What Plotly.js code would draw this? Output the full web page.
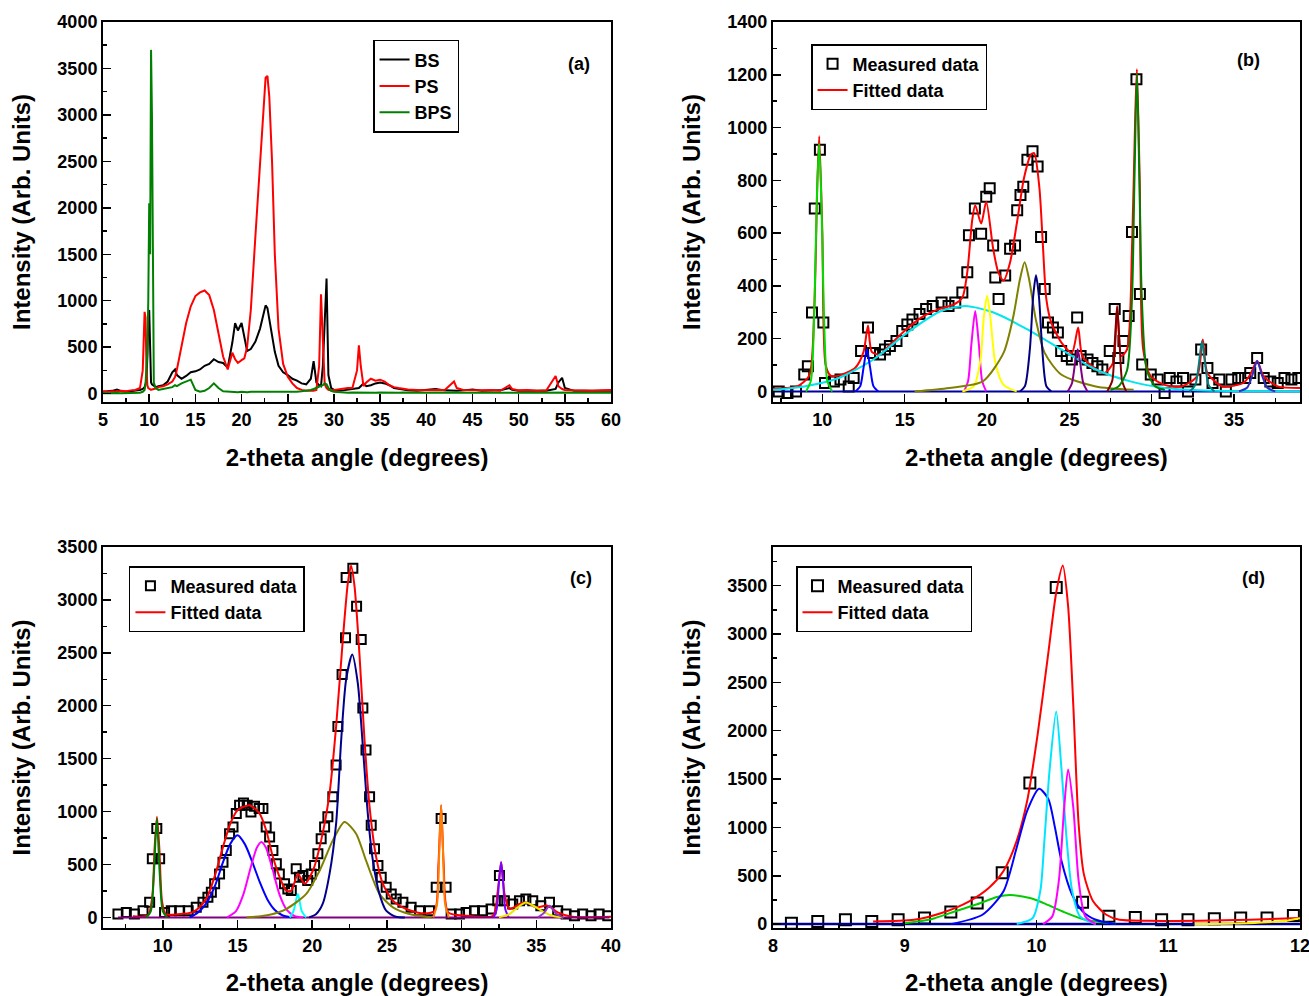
<!DOCTYPE html>
<html><head><meta charset="utf-8">
<script src="https://cdn.plot.ly/plotly-3.0.1.min.js"></script>
<style>html,body{margin:0;padding:0;background:#fff;} #chart{width:1309px;height:996px;}</style>
</head><body><div id="chart"></div>
<script>
// ---------- Panel (a): XRD patterns ----------
const xA = [5,5.5,6,6.5,7,7.5,8,8.5,9,9.3,9.5,9.6,9.7,9.8,9.9,10,10.1,10.2,10.3,10.4,10.5,10.7,11,11.5,12,12.5,12.8,13,13.5,14,14.5,15,15.5,16,16.5,17,17.5,18,18.5,19,19.3,19.6,20,20.3,20.6,21,21.5,22,22.3,22.6,22.8,23,23.3,23.6,24,24.5,25,25.5,26,26.5,27,27.5,27.8,28.1,28.4,28.6,28.8,29,29.2,29.4,29.7,30,30.5,31,31.5,32,32.5,32.7,32.9,33.2,33.5,34,34.5,35,35.5,36,36.5,37,37.5,38,39,40,41,42,43,43.3,44,45,46,47,48,49,49.3,50,51,52,53,54,54.3,54.7,55,56,57,58,59,60];
const bsY = [20,25,30,45,25,20,25,30,40,50,70,100,150,400,850,900,300,120,100,90,80,70,80,90,130,230,260,200,160,190,230,240,260,300,320,370,340,330,280,550,760,680,760,600,460,480,560,700,820,950,920,800,600,450,300,230,200,160,140,110,100,160,350,120,90,80,300,700,1240,200,60,40,30,35,40,45,50,60,80,110,80,90,110,120,110,90,60,50,40,35,30,40,50,35,30,30,35,45,30,30,35,60,40,30,30,35,30,50,120,170,60,30,30,35,30,30];
const psY = [25,20,25,20,30,25,35,40,60,250,880,820,300,90,60,50,45,40,45,50,50,55,70,80,100,130,180,260,520,760,940,1050,1090,1110,1060,900,650,400,260,440,370,330,360,380,500,900,1700,2500,2900,3400,3420,3200,2500,1500,700,320,180,110,60,40,30,25,30,40,300,1070,600,100,60,40,35,40,45,50,60,60,250,520,300,80,120,160,140,150,130,90,70,60,50,45,40,35,40,40,130,60,40,35,35,40,30,90,50,35,40,30,35,190,80,50,40,35,30,30,35,40];
const bpsY = [5,8,5,6,5,8,6,8,10,20,40,100,300,450,1000,2050,1500,3700,3000,600,120,60,40,50,60,70,90,80,110,130,150,40,20,30,60,110,60,25,20,20,15,15,20,15,15,20,20,15,20,15,20,20,15,15,20,15,20,15,20,25,30,40,50,60,70,80,90,110,100,60,30,20,15,10,10,12,10,10,12,10,10,12,10,12,10,12,10,10,12,10,10,10,12,10,12,10,10,12,10,10,12,10,10,12,10,10,12,10,12,10,10,12,10,10,12,10];

// ---------- Panel (b) ----------
const bMeasX = [7.35,7.88,8.4,8.9,9.12,9.37,9.54,9.85,10.06,10.16,10.7,11.1,11.6,11.9,12.35,12.77,13.08,13.5,13.8,14.1,14.5,14.85,15.16,15.47,15.9,16.3,16.7,17.24,17.66,18.07,18.5,18.8,18.9,19.26,19.64,19.95,20.16,20.37,20.5,20.7,21.1,21.4,21.7,21.83,22.03,22.2,22.45,22.76,23.07,23.28,23.5,23.7,24.0,24.3,24.5,24.84,25.15,25.47,25.68,26.1,26.4,26.7,27.0,27.45,27.75,27.97,28.28,28.6,28.8,29.07,29.28,29.42,29.94,30.36,30.78,31.09,31.5,31.9,32.2,32.65,33.0,33.38,33.69,34.1,34.5,34.84,35.25,35.67,35.98,36.4,36.8,37.2,37.65,38.06,38.48,38.9];
const bMeasY = [0,-6,0,64,95,299,693,916,261,32,38,45,19,51,153,242,146,140,159,172,191,229,254,273,293,312,324,337,324,337,375,452,592,693,598,738,770,553,432,350,439,541,553,687,744,776,878,910,852,585,388,261,242,223,153,134,121,280,134,121,108,95,83,153,312,127,191,286,604,1183,369,102,64,45,-6,51,38,51,0,45,159,89,32,45,0,45,51,51,70,127,51,38,32,51,45,51];
const bFitX = [7,8.5,9.2,9.5,9.7,9.81,10.0,10.2,10.5,11,12,12.5,12.77,13.0,13.5,14,15,16,17,18,18.5,18.8,19.1,19.28,19.64,19.95,20.37,20.68,21.0,21.4,21.82,22.24,22.66,22.86,23.18,23.38,23.6,23.9,24.53,25.15,25.53,25.78,26.4,27.13,27.65,27.9,28.15,28.5,28.8,29.0,29.1,29.27,29.48,29.94,30.77,31.8,32.75,33.1,33.38,34.3,35.56,35.98,36.4,36.8,37.65,39];
const bFitY = [10,20,60,300,800,967,600,100,60,60,90,150,250,150,140,170,230,280,310,330,356,452,650,706,636,719,541,452,420,490,642,808,897,903,770,566,350,261,184,146,242,134,95,70,108,324,134,159,541,1050,1221,795,159,57,25,19,57,197,70,19,32,64,115,57,19,13];
const bGreenX = [9.0,9.3,9.5,9.65,9.8,9.95,10.1,10.3,10.6], bGreenY = [0,40,280,700,940,700,280,40,0];
const bBlueX = [12.0,12.3,12.5,12.7,12.9,13.1,13.4], bBlueY = [0,20,90,160,90,20,0];
const bCyanX = [7,8.9,11.0,13.1,15.16,17.2,18.7,20.4,22.45,24.5,26.6,28.7,30.8,32.85,35,39], bCyanY = [6,19,51,121,223,305,324,299,235,159,83,38,13,4,1,0];
const bMagX = [18.6,18.85,19.05,19.28,19.5,19.7,19.95], bMagY = [0,40,180,305,180,40,0];
const bYelX = [18.5,19.2,19.6,19.8,20.0,20.2,20.5,21.0,21.8], bYelY = [0,20,120,280,363,280,110,25,0];
const bOliveX = [15.6,17.7,19.74,21.0,21.6,22.0,22.28,22.55,22.96,23.5,24.5,26.6,28.9], bOliveY = [0,13,38,146,286,426,490,426,273,146,64,19,6];
const bNavyX = [22.0,22.3,22.6,22.8,22.97,23.15,23.35,23.6,23.9], bNavyY = [0,20,160,360,440,360,160,20,0];
const bPurX = [24.9,25.15,25.35,25.5,25.65,25.85,26.1], bPurY = [0,30,110,160,110,30,0];
const bMarX = [27.3,27.6,27.75,27.9,28.05,28.2,28.45], bMarY = [0,40,180,320,180,40,0];
const bDGreenX = [27.5,28.0,28.5,28.8,28.95,29.1,29.25,29.4,29.7,30.2,30.8], bDGreenY = [5,20,80,350,800,1205,800,350,80,20,5];
const bTealX = [32.3,32.65,32.85,33.05,33.25,33.45,33.8], bTealY = [0,25,100,190,100,25,0];
const bBlue2X = [35.3,35.8,36.1,36.4,36.7,37.0,37.5], bBlue2Y = [0,15,60,115,60,15,0];
const bBaseX = [7,39], bBaseY = [0,0];

// ---------- Panel (c) ----------
const cMeasX = [7.0,7.56,8.1,8.68,9.12,9.3,9.6,9.79,10.12,10.57,11.13,11.7,12.24,12.69,13.02,13.25,13.47,13.8,14.03,14.25,14.47,14.7,14.92,15.14,15.4,15.65,15.9,16.14,16.45,16.7,16.92,17.15,17.37,17.6,17.8,18.15,18.37,18.6,18.93,19.15,19.38,19.7,19.93,20.16,20.38,20.6,20.83,21.05,21.38,21.6,21.72,22.0,22.23,22.27,22.72,22.97,23.28,23.39,23.6,23.84,23.95,24.17,24.4,24.62,24.95,25.29,25.62,26.07,26.62,27.18,27.85,28.3,28.63,28.96,29.3,29.86,30.3,30.86,31.4,31.97,32.42,32.53,32.86,33.42,33.87,34.3,34.76,35.3,35.88,36.43,36.99,37.55,38.1,38.66,39.2,39.78];
const cMeasY = [32,47,32,63,142,554,839,554,47,63,63,63,95,142,190,237,317,411,522,633,791,855,981,1060,1080,1060,997,1050,1028,1028,855,760,633,506,411,317,269,253,459,380,396,348,411,490,601,744,855,950,1139,1440,1804,2295,2643,3212,3300,2940,2627,1978,1582,1139,870,649,490,380,285,222,174,142,95,63,63,285,934,285,32,32,47,63,63,79,158,396,158,127,158,174,158,111,142,63,32,16,32,16,32,16];
const cFitX = [8.0,9.0,9.3,9.45,9.61,9.77,9.95,10.2,11,12,12.5,13,13.5,14,14.5,15,15.8,16.48,16.92,17.37,17.82,18.26,18.6,19.04,19.5,20.05,20.6,21.16,21.6,22.05,22.39,22.6,22.83,23.17,23.5,23.84,24.28,24.73,25.4,26.29,27.4,28.2,28.45,28.63,28.8,29.1,30.3,32.1,32.42,32.65,32.87,33.2,33.87,34.3,34.98,35.75,36.43,37.4,40];
const cFitY = [10,20,200,650,950,650,150,30,30,50,100,200,400,650,880,1013,1060,981,823,570,380,253,253,411,317,443,728,1171,1804,2627,3165,3323,3133,2469,1677,1044,570,317,158,79,38,63,500,1060,500,47,16,16,253,522,222,79,127,142,95,111,47,6,5];
const cGreenX = [8.9,9.2,9.4,9.6,9.8,10.0,10.3], cGreenY = [0,60,400,935,400,60,0];
const cBlueX = [11.8,12.3,12.9,13.5,14.0,14.5,15.0,15.5,16.0,16.5,17.0,17.5,18.0,18.6], cBlueY = [0,40,130,300,510,690,775,690,520,330,170,70,20,0];
const cMagX = [14.3,14.9,15.4,15.9,16.3,16.6,16.9,17.3,17.8,18.3,18.8,19.4], cMagY = [0,60,220,480,660,712,660,480,220,70,15,0];
const cCyanX = [18.5,18.75,19.04,19.3,19.6], cCyanY = [0,60,220,60,0];
const cOliveX = [15.6,17.0,18.26,19.6,20.5,21.38,22.16,22.94,23.6,24.5,25.4,26.5,28.0], cOliveY = [0,20,79,222,443,728,902,791,538,222,95,32,0];
const cNavyX = [19.8,20.27,20.7,21.16,21.6,21.94,22.27,22.68,23.05,23.39,23.72,24.06,24.5,24.95,25.6,26.2], cNavyY = [0,32,127,411,886,1677,2247,2485,2215,1614,981,538,222,63,6,0];
const cOrangeX = [28.1,28.35,28.5,28.63,28.76,28.9,29.15], cOrangeY = [0,120,600,1060,600,120,0];
const cVioletX = [32.15,32.35,32.5,32.64,32.78,32.92,33.15], cVioletY = [0,80,330,520,330,80,0];
const cYelX = [32.5,33.2,33.8,34.3,34.8,35.5,36.2,36.8], cYelY = [0,30,100,140,110,50,10,0];
const cPurX = [35.1,35.5,35.88,36.3,36.8], cPurY = [0,40,110,40,0];
const cBaseX = [7,39.9], cBaseY = [0,0];

// ---------- Panel (d) ----------
const dMeasX = [8.14,8.34,8.55,8.75,8.95,9.15,9.35,9.55,9.74,9.95,10.15,10.35,10.55,10.75,10.95,11.15,11.35,11.55,11.75,11.95];
const dMeasY = [10,28,45,28,45,62,125,219,531,1458,3482,226,80,69,45,45,56,62,62,90];
const dFitX = [8.76,9.07,9.28,9.49,9.64,9.75,9.85,9.93,10.01,10.09,10.15,10.2,10.24,10.28,10.32,10.36,10.43,10.53,10.63,10.84,11.23,11.62,12];
const dFitY = [28,45,115,236,375,549,861,1278,1972,2805,3430,3708,3291,2250,1035,514,236,97,45,35,35,45,62];
const dGreenX = [9.0,9.2,9.4,9.55,9.7,9.8,9.95,10.05,10.2,10.37,10.6], dGreenY = [10,50,140,205,280,300,270,220,130,45,5];
const dBlueX = [9.35,9.59,9.75,9.85,9.93,10.02,10.09,10.14,10.19,10.27,10.35,10.45,10.6], dBlueY = [0,97,340,792,1174,1400,1295,1000,653,306,132,45,0];
const dCyanX = [9.85,9.97,10.03,10.06,10.1,10.15,10.19,10.23,10.27,10.33,10.45], dCyanY = [0,60,350,861,1600,2200,1600,861,350,80,0];
const dMagX = [10.05,10.12,10.17,10.21,10.24,10.28,10.32,10.37,10.45], dMagY = [0,80,450,1200,1600,1200,450,80,0];
const dYelX = [11.2,11.6,11.9,12], dYelY = [0,10,35,60];
const dBaseX = [8,12], dBaseY = [0,0];

// ---------- build ----------
const F = 'Liberation Sans, Arial, sans-serif';
const traces = [];
function line(x, y, color, xa, ya, opt) {
  opt = opt || {};
  traces.push(Object.assign({
    x: x, y: y, xaxis: xa, yaxis: ya, mode: 'lines', type: 'scatter',
    line: {color: color, width: opt.w || 2, shape: opt.shape || 'spline', smoothing: 0.7},
    showlegend: false, hoverinfo: 'skip'
  }, opt.extra || {}));
}
function meas(x, y, xa, ya, lg, size) {
  traces.push({x: x, y: y, xaxis: xa, yaxis: ya, type: 'scatter', mode: 'markers', name: 'Measured data',
    marker: {symbol: 'square-open', size: size, color: '#000', line: {width: 2, color: '#000'}},
    legend: lg, showlegend: true});
}
function fit(x, y, xa, ya, lg) {
  line(x, y, '#ff0000', xa, ya, {extra: {name: 'Fitted data', showlegend: true, legend: lg}});
}

// (a)
line(xA, bsY, '#000000', 'x', 'y', {shape: 'linear', extra: {name: 'BS', showlegend: true, legend: 'legend'}});
line(xA, psY, '#ff0000', 'x', 'y', {shape: 'linear', extra: {name: 'PS', showlegend: true, legend: 'legend'}});
line(xA, bpsY, '#008000', 'x', 'y', {shape: 'linear', extra: {name: 'BPS', showlegend: true, legend: 'legend'}});

// (b)
meas(bMeasX, bMeasY, 'x2', 'y2', 'legend2', 10);
fit(bFitX, bFitY, 'x2', 'y2', 'legend2');
line(bBaseX, bBaseY, '#0000a0', 'x2', 'y2', {shape: 'linear'});
line(bCyanX, bCyanY, '#00e5ee', 'x2', 'y2');
line(bGreenX, bGreenY, '#00dd00', 'x2', 'y2');
line(bBlueX, bBlueY, '#0000ff', 'x2', 'y2');
line(bMagX, bMagY, '#ff00ff', 'x2', 'y2');
line(bYelX, bYelY, '#ffff00', 'x2', 'y2');
line(bOliveX, bOliveY, '#808000', 'x2', 'y2');
line(bNavyX, bNavyY, '#000080', 'x2', 'y2');
line(bPurX, bPurY, '#800080', 'x2', 'y2');
line(bMarX, bMarY, '#800000', 'x2', 'y2');
line(bDGreenX, bDGreenY, '#008000', 'x2', 'y2');
line(bTealX, bTealY, '#008080', 'x2', 'y2');
line(bBlue2X, bBlue2Y, '#3030c0', 'x2', 'y2');

// (c)
meas(cMeasX, cMeasY, 'x3', 'y3', 'legend3', 9);
fit(cFitX, cFitY, 'x3', 'y3', 'legend3');
line(cBaseX, cBaseY, '#800080', 'x3', 'y3', {shape: 'linear'});
line(cGreenX, cGreenY, '#008000', 'x3', 'y3');
line(cBlueX, cBlueY, '#0000ff', 'x3', 'y3');
line(cMagX, cMagY, '#ff00ff', 'x3', 'y3');
line(cCyanX, cCyanY, '#00ffff', 'x3', 'y3');
line(cOliveX, cOliveY, '#808000', 'x3', 'y3');
line(cNavyX, cNavyY, '#00008b', 'x3', 'y3');
line(cOrangeX, cOrangeY, '#ff8000', 'x3', 'y3');
line(cVioletX, cVioletY, '#8000ff', 'x3', 'y3');
line(cYelX, cYelY, '#e8e800', 'x3', 'y3');
line(cPurX, cPurY, '#9932cc', 'x3', 'y3');

// (d)
meas(dMeasX, dMeasY, 'x4', 'y4', 'legend4', 11);
fit(dFitX, dFitY, 'x4', 'y4', 'legend4');
line(dBaseX, dBaseY, '#00008b', 'x4', 'y4', {shape: 'linear', w: 2.5});
line(dGreenX, dGreenY, '#00cc00', 'x4', 'y4');
line(dBlueX, dBlueY, '#0000ff', 'x4', 'y4');
line(dCyanX, dCyanY, '#00e5ff', 'x4', 'y4');
line(dMagX, dMagY, '#ff00ff', 'x4', 'y4');
line(dYelX, dYelY, '#ffee00', 'x4', 'y4');

const tickFont = {family: F, size: 18, color: '#000', weight: 'bold'};
const titleFont = {family: F, size: 24, color: '#000', weight: 'bold'};
function axis(domain, range, dtick, minor, anchor, title, standoff) {
  return {
    domain: domain, range: range, anchor: anchor, tick0: 0, dtick: dtick,
    ticks: 'inside', ticklen: 8, tickwidth: 1.5, tickcolor: '#000',
    minor: {tick0: 0, dtick: minor, ticks: 'inside', ticklen: 4, tickwidth: 1.5, tickcolor: '#000', showgrid: false},
    showline: true, linewidth: 2, linecolor: '#000', mirror: true, ticklabeloverflow: 'allow',
    showgrid: false, zeroline: false, tickfont: tickFont, automargin: false, fixedrange: true,
    title: {text: title, font: titleFont, standoff: standoff}
  };
}
const XL = [0.0787, 0.4668], XR = [0.5905, 0.9931], YT = [0.5964, 0.9779], YB = [0.0683, 0.4508];
const XT = '2-theta angle (degrees)', YTt = 'Intensity (Arb. Units)';
const legendBase = {bgcolor: '#fff', bordercolor: '#000', borderwidth: 1.5, xanchor: 'left', yanchor: 'top',
  font: {family: F, size: 18, color: '#000', weight: 'bold'}, tracegroupgap: 0, itemclick: false};
function lab(t, x, y) {
  return {text: t, x: x, y: y, xref: 'paper', yref: 'paper', showarrow: false,
    font: {family: F, size: 18, color: '#000', weight: 'bold'}};
}
const layout = {
  width: 1309, height: 996, margin: {l: 0, r: 0, t: 0, b: 0},
  paper_bgcolor: '#fff', plot_bgcolor: '#fff', showlegend: true,
  xaxis: axis(XL, [5, 60], 5, 2.5, 'y', XT, 21),
  yaxis: axis(YT, [-90, 4000], 500, 250, 'x', YTt, 20),
  xaxis2: axis(XR, [7, 39], 5, 2.5, 'y2', XT, 21),
  yaxis2: axis(YT, [-40, 1400], 200, 100, 'x2', YTt, 20),
  xaxis3: axis(XL, [6, 40], 5, 2.5, 'y3', XT, 21),
  yaxis3: axis(YB, [-100, 3500], 500, 250, 'x3', YTt, 20),
  xaxis4: axis(XR, [8, 12], 1, 0.5, 'y4', XT, 21),
  yaxis4: axis(YB, [-40, 3900], 500, 250, 'x4', YTt, 20),
  legend: Object.assign({}, legendBase, {x: 0.285, y: 0.96}),
  legend2: Object.assign({}, legendBase, {x: 0.6196, y: 0.9558}),
  legend3: Object.assign({}, legendBase, {x: 0.0985, y: 0.4317}),
  legend4: Object.assign({}, legendBase, {x: 0.6081, y: 0.4317}),
  annotations: [lab('(a)', 0.4423, 0.9478), lab('(b)', 0.9641, 0.9518), lab('(c)', 0.4438, 0.4197), lab('(d)', 0.9679, 0.4197)]
};
Plotly.newPlot('chart', traces, layout, {staticPlot: true, displayModeBar: false});
</script></body></html>
